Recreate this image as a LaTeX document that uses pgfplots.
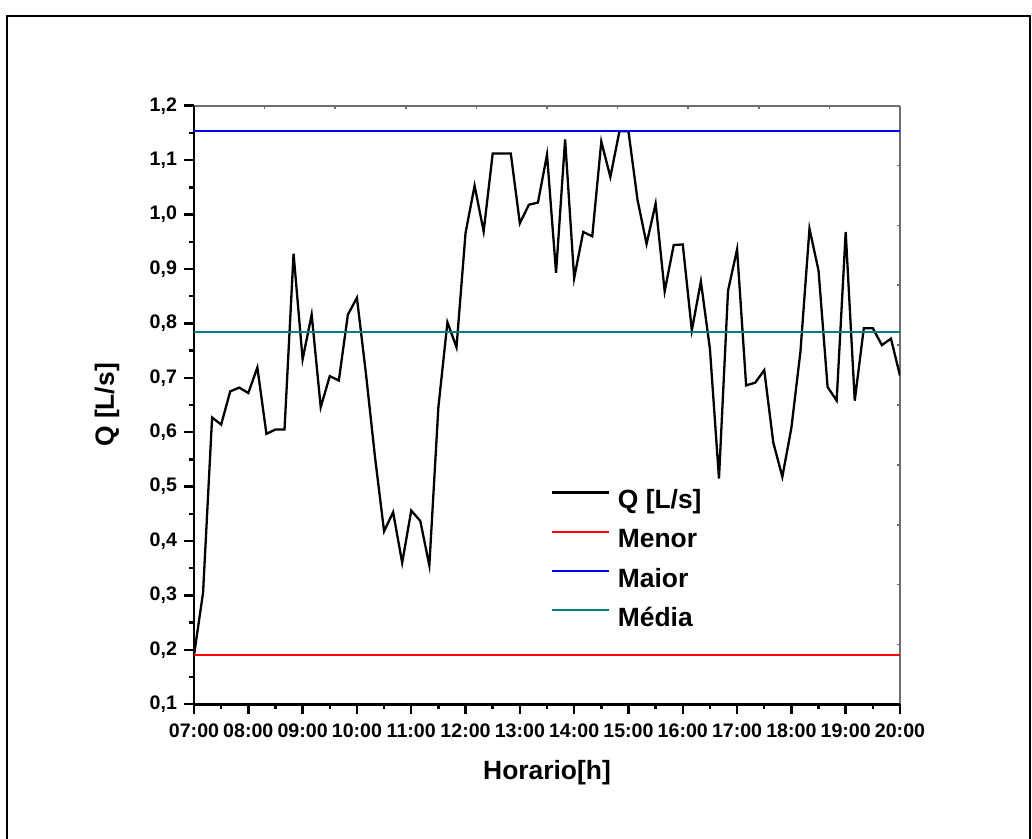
\documentclass[border=0pt]{standalone}
\usepackage{fontspec}
\setmainfont{Liberation Sans}
\usepackage{pgfplots}
\usepackage{pgfplotstable}
\pgfplotsset{compat=1.18}

\definecolor{menor}{RGB}{255,0,0}
\definecolor{maior}{RGB}{0,0,255}
\definecolor{media}{RGB}{0,128,128}
\definecolor{framegray}{RGB}{110,110,110}

% vazao medida a cada 10 min a partir das 07:00 (t em minutos)
\pgfplotstableread{
t q
0 0.190
10 0.305
20 0.627
30 0.614
40 0.675
50 0.682
60 0.672
70 0.719
80 0.597
90 0.605
100 0.605
110 0.928
120 0.734
130 0.816
140 0.646
150 0.703
160 0.695
170 0.816
180 0.847
190 0.707
200 0.554
210 0.418
220 0.453
230 0.360
240 0.456
250 0.437
260 0.355
270 0.646
280 0.802
290 0.756
300 0.966
310 1.053
320 0.969
330 1.112
340 1.112
350 1.112
360 0.984
370 1.018
380 1.022
390 1.110
400 0.893
410 1.138
420 0.883
430 0.968
440 0.960
450 1.134
460 1.069
470 1.153
480 1.153
490 1.027
500 0.946
510 1.020
520 0.859
530 0.944
540 0.945
550 0.787
560 0.877
570 0.753
580 0.515
590 0.860
600 0.936
610 0.686
620 0.691
630 0.714
640 0.581
650 0.518
660 0.608
670 0.748
680 0.974
690 0.897
700 0.683
710 0.658
720 0.968
730 0.658
740 0.791
750 0.791
760 0.760
770 0.772
780 0.704
}\vazao

\newcommand{\ticksize}{\fontsize{9.8}{11}\selectfont\bfseries}
\newcommand{\labsize}{\fontsize{13.2}{15}\selectfont\bfseries}

\begin{document}
\begin{tikzpicture}
\useasboundingbox (0pt,0pt) rectangle (516pt,419.5pt);
% moldura
\draw[line width=1.4pt] (3.5pt,-5pt) |- (515pt,411.5pt) -- (515pt,-5pt);

% eixos superior e direito (cinza)
\begin{axis}[
  at={(97pt,67.35pt)}, anchor=south west,
  scale only axis, width=353pt, height=299.3pt,
  xmin=0, xmax=10, ymin=0, ymax=10,
  axis x line*=top, axis y line*=right,
  axis line style={-, framegray, line width=0.9pt},
  xtick={0,...,10}, ytick={0,...,10},
  xticklabels={}, yticklabels={},
  tick align=inside, major tick length=1.6pt,
  every tick/.style={framegray, line width=0.8pt},
]
\end{axis}

\begin{axis}[
  at={(97pt,67.35pt)}, anchor=south west,
  scale only axis, width=353pt, height=299.3pt,
  xmin=0, xmax=780, ymin=0.1, ymax=1.2,
  axis x line*=bottom, axis y line*=left,
  axis line style={-, black, line width=1.3pt},
  xtick={0,60,...,780},
  xticklabels={07:00,08:00,09:00,10:00,11:00,12:00,13:00,14:00,15:00,16:00,17:00,18:00,19:00,20:00},
  minor x tick num=1,
  ytick={0.1,0.2,0.3,0.4,0.5,0.6,0.7,0.8,0.9,1.0,1.1,1.2},
  minor y tick num=1,
  tick align=outside,
  major tick length=5pt, minor tick length=2.5pt,
  every tick/.style={black, line width=1.2pt},
  /pgf/number format/assume math mode=true,
  yticklabel style={/pgf/number format/.cd, use comma, fixed, fixed zerofill, precision=1},
  xticklabel style={yshift=-1.2pt},
  tick label style={font=\ticksize},
  xlabel={Horario[h]},
  ylabel={Q [L/s]},
  xlabel style={at={(axis description cs:0.5,-0.1136)}, anchor=center, font=\labsize},
  ylabel style={at={(axis description cs:-0.1232,0.5)}, anchor=center, font=\labsize},
  legend cell align=left,
  legend image code/.code={\draw[#1] (0pt,4.7pt) -- (28.5pt,4.7pt);},
  legend style={draw=none, fill=none, inner sep=0pt, outer sep=0pt,
    at={(axis cs:394,0.4947)}, anchor=north west,
    font=\labsize, row sep=7.2pt,
    nodes={inner sep=0pt, text height=9.6pt, text depth=2.8pt},
    /tikz/every odd column/.append style={column sep=4pt}},
]
\addplot[black, line width=1.15pt] table[x=t, y=q] {\vazao};
\addlegendentry{Q [L/s]}
\addplot[menor, line width=1pt] coordinates {(0,0.19) (780,0.19)};
\addlegendentry{Menor}
\addplot[maior, line width=1pt] coordinates {(0,1.153) (780,1.153)};
\addlegendentry{Maior}
\addplot[media, line width=1pt] coordinates {(0,0.7835) (780,0.7835)};
\addlegendentry{Média}
\end{axis}
\end{tikzpicture}
\end{document}
